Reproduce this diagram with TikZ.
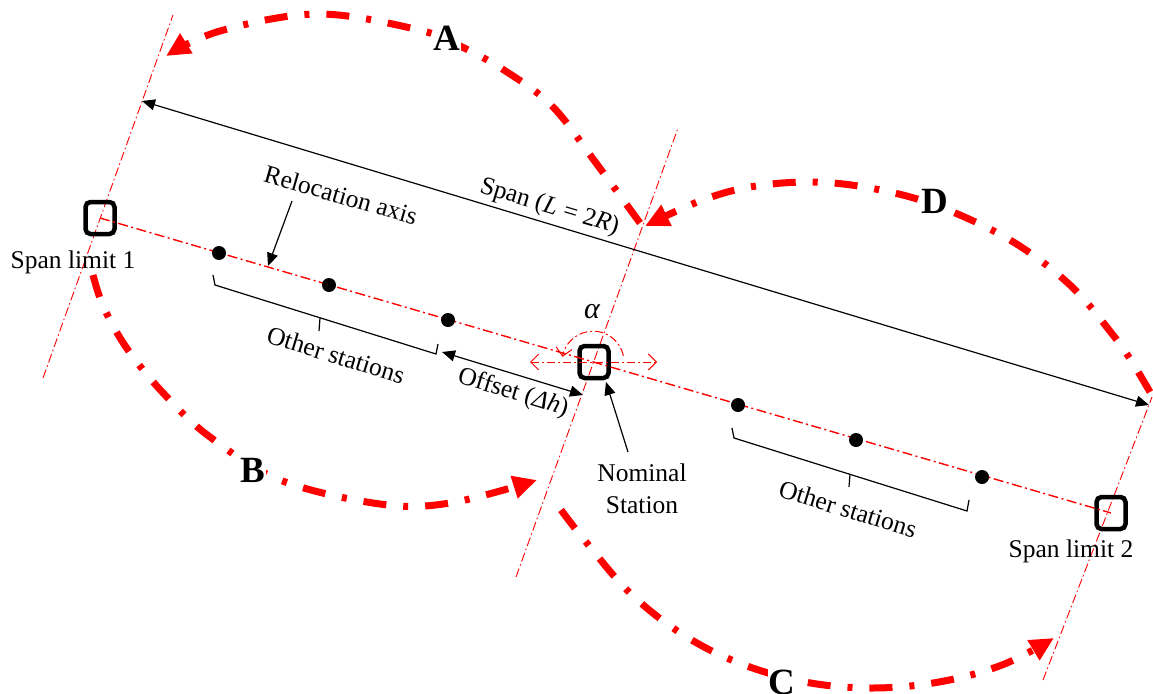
\documentclass[tikz,border=0pt]{standalone}
\usepackage{fontspec}
\setmainfont{Liberation Serif}
\usetikzlibrary{arrows.meta,calc}
\begin{document}
\begin{tikzpicture}[x=1pt,y=-1pt,
  lbl/.style={font=\fontsize{25.5}{32}\selectfont, inner sep=1pt},
  biglbl/.style={font=\fontsize{37}{40}\selectfont\bfseries, fill=white, inner sep=1pt},
  stationbox/.style={draw=black, line width=4.5pt, rounded corners=5pt, minimum width=29pt, minimum height=32pt, inner sep=0pt},
  stationdot/.style={circle, fill=black, minimum size=14pt, inner sep=0pt},
  axisline/.style={red, line width=1.4pt, dash pattern=on 10pt off 3.5pt on 2pt off 3.5pt},
  perpline/.style={red, line width=0.9pt, dash pattern=on 9pt off 3pt on 1.5pt off 3pt},
  pointer/.style={black, line width=1.2pt, -{Triangle[length=13pt,width=11pt]}},
  dimline/.style={black, line width=1.2pt, {Triangle[length=13pt,width=11pt]}-{Triangle[length=13pt,width=11pt]}},
  bracketline/.style={black, line width=1.2pt},
  motion/.style={red, line width=7pt, dash pattern=on 23pt off 17pt on 5pt off 17pt, -{Triangle[length=24pt,width=22pt]}},
  alphaline/.style={red, line width=1pt, dash pattern=on 8pt off 3pt on 2pt off 3pt}
]
\useasboundingbox (0,0) rectangle (1153,693);

% lines normal to the relocation axis
\coordinate (p1a) at (43,378);   \coordinate (p1b) at (173,15);
\coordinate (p2a) at (516,577);  \coordinate (p2b) at (678,128);
\coordinate (p3a) at (1043,680); \coordinate (p3b) at (1152,397);
\draw[perpline] (p1a) -- (p1b);
\draw[perpline] (p2a) -- (p2b);
\draw[perpline] (p3a) -- (p3b);

% relocation axis with span limits and nominal station
\node[stationbox] (sl1) at (100,218) {};
\node[stationbox] (ns) at (594,362) {};
\node[stationbox] (sl2) at (1111,513) {};
\draw[axisline] (sl1.center) -- (sl2.center);

% other stations
\node[stationdot] (d1) at (219,253) {};
\node[stationdot] (d2) at (329,285) {};
\node[stationdot] (d3) at (448,320) {};
\node[stationdot] (d4) at (738,405) {};
\node[stationdot] (d5) at (856,440) {};
\node[stationdot] (d6) at (982,477) {};

% labels of the span limits
\node[lbl] (sl1lbl) at (73,262) {Span limit 1};
\node[lbl] (sl2lbl) at (1071,551) {Span limit 2};

% relocation axis label
\node[lbl, rotate=-16] (ralbl) at (341,195) {Relocation axis};
\coordinate (ratail) at (292,201);
\coordinate (ratip) at (268,266);
\draw[pointer] (ratail) -- (ratip);

% span dimension
\coordinate (spanL) at (142,101);
\coordinate (spanR) at (1149,405);
\draw[dimline] (spanL) -- (spanR) node[lbl, pos=0.4, above=3pt, sloped] (spanlbl) {Span (\textit{L} = 2\textit{R})};

% brackets grouping the other stations
\draw[bracketline] (213,275) -- (215,285) -- (436,354) -- (438,344);
\draw[bracketline] (320,318) -- (319,331);
\node[lbl, rotate=-17] (os1) at (336,355) {Other stations};
\draw[bracketline] (732,428) -- (734,438) -- (967,511) -- (969,500);
\draw[bracketline] (850,474) -- (849,487);
\node[lbl, rotate=-17] (os2) at (848,509) {Other stations};

% offset
\coordinate (offL) at (442,352);
\coordinate (offR) at (583,395);
\draw[dimline] (offL) -- (offR);
\node[lbl, rotate=-17] (offlbl) at (513,393) {Offset (\textit{Δh})};

% nominal station
\node[lbl, align=center] (nslbl) at (642,489) {Nominal\\Station};
\coordinate (nstail) at (628,452);
\coordinate (nstip) at (606,382);
\draw[pointer] (nstail) -- (nstip);

% heading angle
\coordinate (hl) at (530,362);
\coordinate (hr) at (657,362);
\draw[alphaline, {Straight Barb[length=8pt,width=16pt]}-{Straight Barb[length=8pt,width=16pt]}] (hl) -- (hr);
\draw[alphaline, -{Straight Barb[length=8pt,width=16pt]}] ($(ns.center)+(12:30pt)$) arc[start angle=12, end angle=170, radius=31pt];
\node[font=\fontsize{30}{34}\selectfont\itshape, inner sep=1pt] (alab) at (592,312) {α};

% relocation moves
\draw[motion] plot[smooth, tension=0.6] coordinates {(640,223) (596,163) (553,107) (507,72) (460,46) (415,29) (317,14) (220,31) (166,56)};
\draw[motion] plot[smooth, tension=0.6] coordinates {(93,275) (104,308) (128,350) (165,395) (210,437) (280,480) (380,504) (450,503) (537,480)};
\draw[motion] plot[smooth, tension=0.6] coordinates {(561,510) (586,542) (630,593) (682,634) (739,663) (805,682) (872,688) (939,682) (1002,665) (1054,638)};
\draw[motion] plot[smooth, tension=0.6] coordinates {(1150,392) (1132,362) (1113,335) (1070,285) (1010,240) (935,205) (870,188) (810,182) (750,187) (700,201) (645,226)};

\node[biglbl] (la) at (447,38) {A};
\node[biglbl] (lb) at (253,470) {B};
\node[biglbl] (lc) at (782,682) {C};
\node[biglbl] (ld) at (935,201) {D};
\end{tikzpicture}
\end{document}
